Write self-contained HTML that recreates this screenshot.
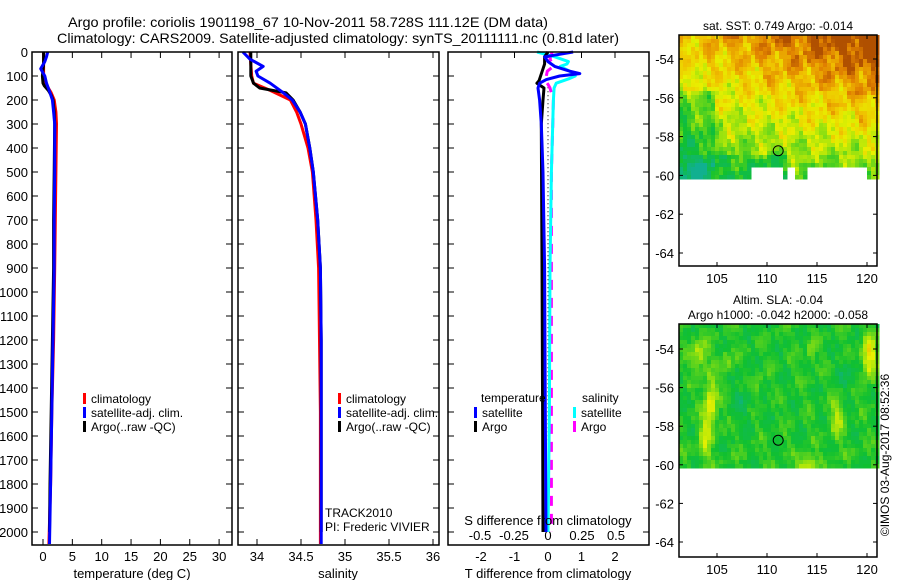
<!DOCTYPE html>
<html><head><meta charset="utf-8"><style>
html,body{margin:0;padding:0;background:#fff;}
svg{display:block;font-family:"Liberation Sans",sans-serif;}
</style></head><body>
<svg id="fig" width="900" height="580" viewBox="0 0 900 580" xmlns="http://www.w3.org/2000/svg">
<text x="68" y="27" font-size="14" textLength="480" lengthAdjust="spacingAndGlyphs">Argo profile: coriolis 1901198_67 10-Nov-2011 58.728S 111.12E (DM data)</text>
<text x="57" y="43" font-size="14" textLength="562" lengthAdjust="spacingAndGlyphs">Climatology: CARS2009. Satellite-adjusted climatology: synTS_20111111.nc (0.81d later)</text>
<g id="root"></g>
</svg>
<script>
// ---------- data ----------
const depthTicks=[0,100,200,300,400,500,600,700,800,900,1000,1100,1200,1300,1400,1500,1600,1700,1800,1900,2000];
const tempTicks=[0,5,10,15,20,25,30];
const salTicks=[34,34.5,35,35.5,36];
const tdiffTicks=[-2,-1,0,1,2];
const sdiffTicks=[-0.5,-0.25,0,0.25,0.5];
const lonTicks=[105,110,115,120];
const latTicks=[-54,-56,-58,-60,-62,-64];

const tClimDepth=[0,20,50,100,130,150,170,200,250,300,500,700,900,1200,1500,1800,2050];
const tClimVal=[0.1,0.1,0.1,0.1,0.3,0.9,1.4,1.9,2.2,2.3,2.2,2.1,2.0,1.8,1.5,1.3,1.0];
const tSatDepth=[0,20,40,70,100,130,150,170,200,250,300,500,700,900,1200,1500,1800,2050];
const tSatVal=[0.8,0.6,0.3,-0.4,0.3,0.6,0.9,1.2,1.6,1.8,2.0,2.0,1.9,1.9,1.7,1.5,1.3,1.1];
const tArgoDepth=[0,20,50,100,130,140,160,180,200,250,300,500,700,900,1200,1500,1800,2000];
const tArgoVal=[0.1,0.1,0.1,-0.1,0.0,0.2,0.9,1.4,1.7,1.9,2.0,1.9,1.8,1.8,1.6,1.4,1.2,1.1];

const sClimDepth=[0,50,100,130,160,200,250,300,400,500,700,900,1200,1500,2050];
const sClimVal=[33.92,33.93,33.94,33.96,34.15,34.38,34.45,34.5,34.58,34.63,34.67,34.70,34.71,34.72,34.72];
const sSatDepth=[0,30,60,80,100,130,170,200,250,300,400,500,700,900,1200,1500,2050];
const sSatVal=[33.84,33.92,34.07,33.99,34.01,34.15,34.30,34.40,34.49,34.55,34.60,34.64,34.69,34.72,34.73,34.73,34.73];
const sArgoDepth=[0,100,130,150,170,200,250,300,400,500,700,900,1200,1500,2000];
const sArgoVal=[33.93,33.93,33.96,34.03,34.33,34.41,34.49,34.55,34.60,34.64,34.69,34.72,34.73,34.73,34.73];

const dTSatDepth=[0,20,40,60,80,90,100,115,130,150,200,300,500,900,1500,2000];
const dTSatVal=[0.75,-0.1,0.0,0.2,0.65,0.95,0.35,-0.05,-0.25,-0.3,-0.25,-0.2,-0.15,-0.1,-0.08,-0.06];
const dTArgoDepth=[0,20,50,70,120,130,150,200,300,900,1500,2000];
const dTArgoVal=[0.0,-0.1,-0.1,-0.15,-0.27,-0.33,-0.12,-0.15,-0.2,-0.18,-0.16,-0.15];
const dSSatDepth=[0,20,40,50,60,80,100,110,130,150,200,500,900,1500,2000];
const dSSatVal=[-0.08,0.05,0.15,0.14,0.09,0.16,0.2,0.16,0.06,0.045,0.04,0.025,0.015,0.01,0.0];
const dSArgoDepth=[0,30,60,80,120,135,150,200,300,500,1000,2000];
const dSArgoVal=[0.03,0.015,0.04,-0.005,-0.02,0.0,0.015,0.04,0.035,0.025,0.025,0.025];

const argoLon=111.12, argoLat=-58.728;

// ---------- helpers ----------
const NS="http://www.w3.org/2000/svg";
const root=document.getElementById('root');
function mk(tag,attrs,parent){const e=document.createElementNS(NS,tag);for(const k in attrs)e.setAttribute(k,attrs[k]);(parent||root).appendChild(e);return e;}
const yD=d=>52+d*0.24;
const xT=t=>43+t*5.87;
const xS=s=>257+(s-34)*88;
const xDT=t=>548+t*33.5;
const xDS=s=>548+s*136;

function frame(x0,x1,y0,y1,name){
  const r=mk('rect',{x:x0,y:y0,width:x1-x0,height:y1-y0,fill:'none',stroke:'#000','stroke-width':1.5});
  
  
}
function depthAxis(x0,x1,labels){
  depthTicks.forEach(d=>{
    const y=yD(d);
    const t1=mk('line',{x1:x0,x2:x0+6,y1:y,y2:y,stroke:'#000'});
    
    
    const t2=mk('line',{x1:x1-6,x2:x1,y1:y,y2:y,stroke:'#000'});
    
    
    if(labels){const t=mk('text',{x:x0-4,y:y+5,'font-size':13,'text-anchor':'end'});t.textContent=d;
      
      }
  });
}
function xAxis(ticks,fx,y0,y1,ly,fmt,name){
  ticks.forEach(v=>{
    const x=fx(v);
    const a=mk('line',{x1:x,x2:x,y1:y1,y2:y1-6,stroke:'#000'});
    
    
    const b=mk('line',{x1:x,x2:x,y1:y0,y2:y0+6,stroke:'#000'});
    
    
    const t=mk('text',{x:x,y:ly,'font-size':13,'text-anchor':'middle'});t.textContent=fmt?fmt(v):v;
    
    
  });
}
function smooth(depths,vals,fx,color,name,extra){
  let p='';
  for(let i=0;i<depths.length;i++){p+=(i?' L':'M')+fx(vals[i]).toFixed(1)+' '+yD(depths[i]).toFixed(1);}
  const a={d:p,fill:'none',stroke:color,'stroke-width':3,'stroke-linejoin':'round'};
  if(extra)for(const k in extra)a[k]=extra[k];
  const e=mk('path',a);
  
  
}
function legendEntry(x,y,color,label,name){
  const r=mk('rect',{x:x,y:y-9,width:3,height:11,fill:color});
  
  
  const t=mk('text',{x:x+8,y:y+1,'font-size':12});t.textContent=label;
  
  
}
function label(x,y,txt,name,size,anchor){
  const t=mk('text',{x:x,y:y,'font-size':size||13,'text-anchor':anchor||'middle'});t.textContent=txt;
  
  
  return t;
}

// ---------- panel 1: temperature ----------
depthAxis(32,232,true);
xAxis(tempTicks,xT,52,545,561,null,'temperature-axis');
smooth(tClimDepth,tClimVal,xT,'#f00','temperature-climatology-line');
smooth(tArgoDepth,tArgoVal,xT,'#000','temperature-argo-line');
smooth(tSatDepth,tSatVal,xT,'#00f','temperature-satellite-line');
frame(32,232,52,545,'temperature-plot-frame');
label(132,578,'temperature (deg C)','temperature-axis-title');
legendEntry(83,402,'#f00','climatology','legend-climatology');
legendEntry(83,416,'#00f','satellite-adj. clim.','legend-satellite-adj');
legendEntry(83,430,'#000','Argo(..raw -QC)','legend-argo');

// ---------- panel 2: salinity ----------
depthAxis(238,439,false);
xAxis(salTicks,xS,52,545,561,null,'salinity-axis');
smooth(sClimDepth,sClimVal,xS,'#f00','salinity-climatology-line');
smooth(sArgoDepth,sArgoVal,xS,'#000','salinity-argo-line');
smooth(sSatDepth,sSatVal,xS,'#00f','salinity-satellite-line');
frame(238,439,52,545,'salinity-plot-frame');
label(338,578,'salinity','salinity-axis-title');
legendEntry(338,402,'#f00','climatology','legend-climatology-2');
legendEntry(338,416,'#00f','satellite-adj. clim.','legend-satellite-adj-2');
legendEntry(338,430,'#000','Argo(..raw -QC)','legend-argo-2');
label(325,517,'TRACK2010','track-label',12,'start');
label(325,531,'PI: Frederic VIVIER','pi-label',12,'start');

// ---------- panel 3: differences ----------
depthAxis(448,649,false);
tdiffTicks.forEach(v=>{const x=xDT(v);
  const a=mk('line',{x1:x,x2:x,y1:52,y2:58,stroke:'#000'});
  
  
  label(x,561,v,'tdiff-tick-label');});
sdiffTicks.forEach(v=>{label(xDS(v),540,v,'sdiff-tick-label');});
const zl=mk('line',{x1:548,x2:548,y1:yD(130),y2:yD(2000),stroke:'#000','stroke-dasharray':'1,3'});


smooth(dSArgoDepth,dSArgoVal,xDS,'#f0f','sdiff-argo-line',{'stroke-dasharray':'10,8'});
smooth(dSSatDepth,dSSatVal,xDS,'#0ff','sdiff-satellite-line');
smooth(dTArgoDepth,dTArgoVal,xDT,'#000','tdiff-argo-line');
smooth(dTSatDepth,dTSatVal,xDT,'#00f','tdiff-satellite-line');
frame(448,649,52,545,'difference-plot-frame');
label(548,525,'S difference from climatology','sdiff-axis-title');
label(548,578,'T difference from climatology','tdiff-axis-title');
label(481,402,'temperature','legend-temperature-header',12,'start');
label(582,402,'salinity','legend-salinity-header',12,'start');
legendEntry(474,416,'#00f','satellite','legend-t-satellite');
legendEntry(474,430,'#000','Argo','legend-t-argo');
legendEntry(573,416,'#0ff','satellite','legend-s-satellite');
legendEntry(573,430,'#f0f','Argo','legend-s-argo');

// ---------- maps ----------
const stops=[[0,[16,176,144]],[0.25,[16,192,48]],[0.45,[144,224,16]],[0.6,[232,240,0]],[0.75,[240,192,0]],[0.9,[224,128,0]],[1,[176,80,0]]];
function cmap(v){v=Math.max(0,Math.min(1,v));for(let i=1;i<stops.length;i++){if(v<=stops[i][0]){const a=stops[i-1],b=stops[i],f=(v-a[0])/(b[0]-a[0]);return 'rgb('+a[1].map((c,j)=>Math.round(c+(b[1][j]-c)*f)).join(',')+')';}}return 'rgb(176,80,0)';}
function tex(lon,lat){
  return 0.05*Math.sin(lon*2.31+lat*1.17)+0.04*Math.sin(lon*1.13-lat*3.71)+0.035*Math.cos(lon*5.07+lat*4.43)
        +0.03*Math.sin(lon*3.77*Math.sin(lat*0.9)+lat*2.9)+0.025*Math.cos(lon*8.3-lat*6.1);
}
function mapPanel(top,bottom,lat54y,fieldFn,title1,title2,name){
  const left=679,right=877;
  const pxLon=10, pxLat=(lat54y[1]-lat54y[0])/10;
  const fx=lon=>717+(lon-105)*pxLon, fy=lat=>lat54y[0]+(-54-lat)*pxLat;
  const g=mk('g',{});
  
  
  const cell=4;
  for(let y=top;y<fy(-60.1);y+=cell){for(let x=left;x<right;x+=cell){
    const lon=105+(x-717)/pxLon, lat=-54-(y-lat54y[0])/pxLat;
    const v=fieldFn(lon,lat); if(v===null)continue;
    mk('rect',{x:x,y:y,width:cell+0.5,height:cell+0.5,fill:cmap(v)},g);
  }}
  const c=mk('circle',{cx:fx(argoLon),cy:fy(argoLat),r:5,fill:'none',stroke:'#000','stroke-width':1});
  
  
  frame(left,right,top,bottom,name+'-frame');
  lonTicks.forEach(l=>{const x=fx(l);
    const a=mk('line',{x1:x,x2:x,y1:bottom,y2:bottom-4,stroke:'#000'});
    
    
    const b=mk('line',{x1:x,x2:x,y1:top,y2:top+4,stroke:'#000'});
    
    
    label(x,bottom+17,l,name+'-lon-label');});
  latTicks.forEach(l=>{const y=fy(l);
    const a=mk('line',{x1:left,x2:left+4,y1:y,y2:y,stroke:'#000'});
    
    
    const b=mk('line',{x1:right,x2:right-4,y1:y,y2:y,stroke:'#000'});
    
    
    label(left-5,y+5,l,name+'-lat-label',13,'end');});
  label(778,top-(title2?20:5),title1,name+'-title',12);
  if(title2)label(778,top-5,title2,name+'-subtitle',12);
}
function sstField(lon,lat){
  if(lat<-60.1)return null;
  if(lat<-59.55&&lon>108&&lon<119.9&&!((lon>111.3&&lon<111.8)||(lon>112.4&&lon<114)))return null;
  const n=(lat+60)/7.3, e=(lon-101)/20;
  let v=0.3+0.42*n+0.3*e*(0.3+n);
  v+=tex(lon,lat)*1.3;
  if(lon<104.5&&lat<-55.5)v-=0.15;
  if(lat<-58.8&&lon<112)v-=0.1;
  return v;
}
function slaField(lon,lat){
  if(lat<-60.1)return null;
  let v=0.27+tex(lon,lat)*0.8;
  const blobs=[[104.2,-56.7,0.35,0.6,1.3],[103,-54.2,0.25,0.8,0.8],[120,-54.3,0.4,0.7,1.1],[103.6,-58.6,0.25,0.6,1.2],[113.8,-60,0.3,1,0.6],[116.8,-57.5,0.25,0.6,1],[108.8,-55.8,0.15,0.4,0.5],[114.2,-54,0.15,0.4,0.8],[105.8,-54.6,0.15,0.5,0.6]];
  blobs.forEach(b=>{const dx=(lon-b[0])/b[3],dy=(lat-b[1])/b[4];v+=b[2]*Math.exp(-(dx*dx+dy*dy));});
  v-=0.1*Math.exp(-(((lon-118)/1)**2+((lat+55.2)/0.8)**2));
  v-=0.08*Math.exp(-(((lon-107.5)/1.2)**2+((lat+56.5)/1.2)**2));
  return Math.min(v,0.82);
}
mapPanel(35,266,[59,253],sstField,'sat. SST: 0.749 Argo: -0.014',null,'sst-map');
mapPanel(324,557,[349,542],slaField,'Altim. SLA: -0.04','Argo h1000: -0.042 h2000: -0.058','sla-map');
const cr=label(0,0,'©IMOS 03-Aug-2017 08:52:36','copyright-timestamp',12,'middle');
cr.setAttribute('transform','translate(889,455) rotate(-90)');
</script>
</body></html>
